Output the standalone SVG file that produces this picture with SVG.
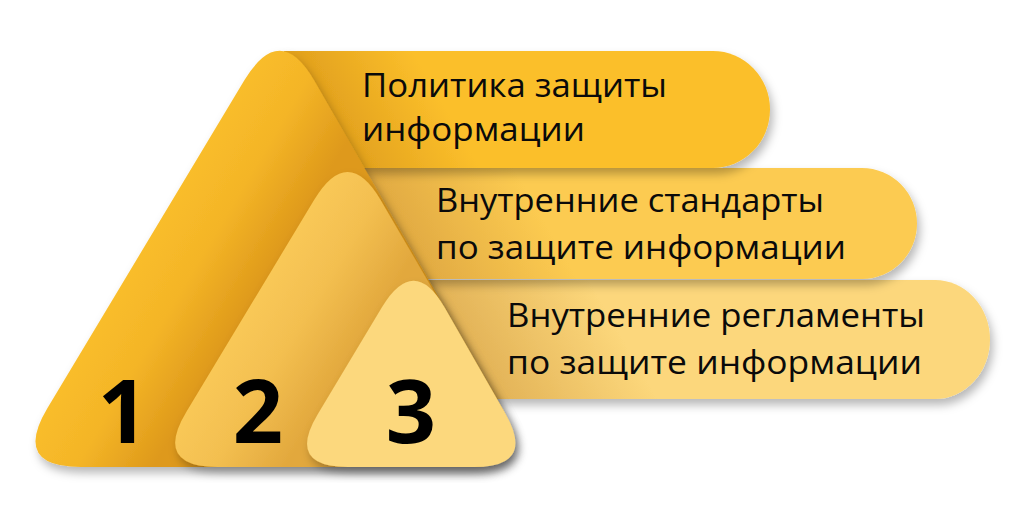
<svg xmlns="http://www.w3.org/2000/svg" width="1024" height="518" viewBox="0 0 1024 518">
  <style>
    .lbl { font-family: "Open Sans", "Noto Sans", "Liberation Sans", sans-serif; font-size: 33px; fill: #0a0a0a; }
    .num { font-family: "Open Sans", "Noto Sans", "Liberation Sans", sans-serif; font-size: 88px; font-weight: 700; fill: #000; text-anchor: middle; }
  </style>
  <defs>
    <filter id="shadow" x="-10%" y="-10%" width="130%" height="135%">
      <feDropShadow dx="3" dy="6" stdDeviation="5" flood-color="#000" flood-opacity="0.28"/>
    </filter>
    <linearGradient id="gB1" gradientUnits="userSpaceOnUse" x1="331" y1="110" x2="418" y2="60">
      <stop offset="0" stop-color="#E3A21E"/>
      <stop offset="1" stop-color="#FBBF2B"/>
    </linearGradient>
    <linearGradient id="gB2" gradientUnits="userSpaceOnUse" x1="396" y1="224" x2="509" y2="159">
      <stop offset="0" stop-color="#E1AA42"/>
      <stop offset="1" stop-color="#FCCB51"/>
    </linearGradient>
    <linearGradient id="gB3" gradientUnits="userSpaceOnUse" x1="462" y1="340" x2="583" y2="270">
      <stop offset="0" stop-color="#E2B256"/>
      <stop offset="1" stop-color="#FCD77B"/>
    </linearGradient>
    <linearGradient id="gT1" gradientUnits="userSpaceOnUse" x1="112" y1="300" x2="216" y2="362">
      <stop offset="0" stop-color="#F9BD2B"/>
      <stop offset="0.45" stop-color="#F4B527"/>
      <stop offset="1" stop-color="#DE991B"/>
    </linearGradient>
    <linearGradient id="gT2" gradientUnits="userSpaceOnUse" x1="224" y1="350" x2="321" y2="409">
      <stop offset="0" stop-color="#F9C857"/>
      <stop offset="0.45" stop-color="#F3BF50"/>
      <stop offset="1" stop-color="#E2A83D"/>
    </linearGradient>
  </defs>

  <!-- banners (bottom to top) -->
  <g id="banner3">
    <path d="M380,280 H935 A55,59.5 0 0 1 990,339.5 A55,59.5 0 0 1 935,399 H380 Z" fill="url(#gB3)" filter="url(#shadow)"/>
    <text class="lbl" x="507" y="327" textLength="418" lengthAdjust="spacingAndGlyphs">Внутренние регламенты</text>
    <text class="lbl" x="507" y="374" textLength="415" lengthAdjust="spacingAndGlyphs">по защите информации</text>
  </g>
  <g id="banner2">
    <path d="M300,168 H862 A55,55.5 0 0 1 917,223.5 A55,55.5 0 0 1 862,279 H300 Z" fill="url(#gB2)" filter="url(#shadow)"/>
    <text class="lbl" x="436" y="212" textLength="388" lengthAdjust="spacingAndGlyphs">Внутренние стандарты</text>
    <text class="lbl" x="436" y="259" textLength="410" lengthAdjust="spacingAndGlyphs">по защите информации</text>
  </g>
  <g id="banner1">
    <path d="M284,51 H713 A57,58.5 0 0 1 770,109.5 A57,58.5 0 0 1 713,168 H284 Z" fill="url(#gB1)" filter="url(#shadow)"/>
    <text class="lbl" x="362" y="97" textLength="305" lengthAdjust="spacingAndGlyphs">Политика защиты</text>
    <text class="lbl" x="362" y="141" textLength="223" lengthAdjust="spacingAndGlyphs">информации</text>
  </g>

  <!-- triangles -->
  <g id="tri1">
    <path d="M244.5,80.1 Q280,21 314.3,80.8 L501.7,407.2 Q536,467 467,467 L81,467 Q12,467 47.5,407.9 Z" fill="url(#gT1)" filter="url(#shadow)"/>
    <text class="num" x="123" y="443">1</text>
  </g>
  <g id="tri2">
    <path d="M314.4,199.6 Q348,144 380.7,200.2 L503.3,410.8 Q536,467 471,467 L218,467 Q153,467 186.6,411.4 Z" fill="url(#gT2)" filter="url(#shadow)"/>
    <text class="num" x="258" y="443">2</text>
  </g>
  <g id="tri3">
    <path d="M382.1,307.1 Q414,254 444.8,307.8 L505.2,413.2 Q536,467 474,467 L348,467 Q286,467 317.9,413.9 Z" fill="#FCD87D" filter="url(#shadow)"/>
    <text class="num" x="411" y="443">3</text>
  </g>
</svg>
